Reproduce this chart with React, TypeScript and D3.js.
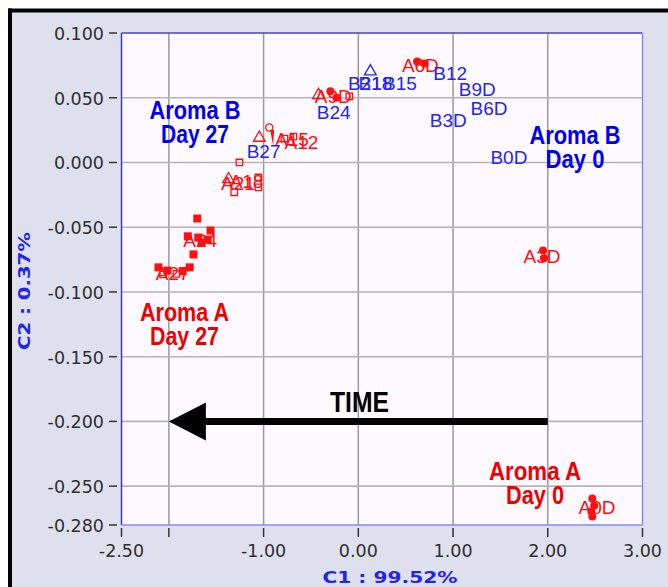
import * as d3 from "d3";

// axis ticks
const X_TICKS = [-2.5, -2, -1, 0, 1, 2, 3];
const X_TICK_LABELS = ["-2.50", "", "-1.00", "0.00", "1.00", "2.00", "3.00"];
const Y_TICKS = [0.1, 0.05, 0, -0.05, -0.1, -0.15, -0.2, -0.25, -0.28];
const Y_TICK_LABELS = ["0.100", "0.050", "0.000", "-0.050", "-0.100", "-0.150", "-0.200", "-0.250", "-0.280"];
const X_GRID = [-2, -1, 0, 1, 2];
const Y_GRID = [0.05, 0, -0.05, -0.1, -0.15, -0.2, -0.25];

// Aroma B sample labels
const B_LABELS = ["B0D", "B3D", "B6D", "B9D", "B12", "B15", "B18", "B21", "B24", "B27"];
const B_X = [1.59, 0.95, 1.38, 1.255, 0.97, 0.44, 0.18, 0.07, -0.26, -1.0];
const B_Y = [0.004, 0.033, 0.042, 0.057, 0.069, 0.061, 0.061, 0.061, 0.039, 0.009];

// Aroma A sample labels
const A_LABELS = ["A0D", "A3D", "A6D", "A9D", "A12", "A15", "A18", "A21", "A24", "A27"];
const A_X = [2.52, 1.94, 0.655, -0.265, -0.6, -0.7, -1.18, -1.27, -1.67, -1.96];
const A_Y = [-0.266, -0.072, 0.075, 0.051, 0.016, 0.018, -0.014, -0.016, -0.0595, -0.085];

// replicate markers
const M_SHAPE = [
  "dot", "dot", "dot", "dot",
  "dot", "dot",
  "dot", "dot",
  "dot", "dot", "sqOpen", "triOpen",
  "circOpen", "triOpen", "wedge", "sqOpen", "sqOpen",
  "sqOpen", "sqOpen", "sqOpen", "sqOpen", "triOpen",
  "sq", "sq", "sq", "sq", "sq", "sq", "sq",
  "sq", "sq", "sq", "sq", "sqOpen", "sqOpen",
  "triBlue",
];
const M_X = [
  2.47, 2.49, 2.46, 2.47,
  1.95, 1.96,
  0.62, 0.7,
  -0.295, -0.23, -0.095, -0.42,
  -0.94, -1.045, -0.91, -0.78, -0.685,
  -1.255, -1.31, -1.055, -1.055, -1.37,
  -1.7, -1.8, -1.69, -1.56, -1.74, -1.655, -1.59,
  -2.11, -2.015, -1.855, -1.78, -2.06, -1.92,
  0.127,
];
const M_Y = [
  -0.2595, -0.265, -0.2696, -0.2734,
  -0.068, -0.074,
  0.078, 0.0765,
  0.055, 0.05, 0.051, 0.052,
  0.027, 0.019, 0.019, 0.0185, 0.02,
  0.0, -0.023, -0.0116, -0.0193, -0.013,
  -0.0433, -0.057, -0.058, -0.0526, -0.071, -0.062, -0.0595,
  -0.081, -0.0835, -0.084, -0.081, -0.0865, -0.086,
  0.0703,
];

// annotations (two lines each)
const NOTE_LINE1 = ["Aroma B", "Aroma B", "Aroma A", "Aroma A"];
const NOTE_LINE2 = ["Day 27", "Day 0", "Day 27", "Day 0"];
const NOTE_X = [-1.724, 2.287, -1.835, 1.865];
const NOTE_Y = [0.0336, 0.0143, -0.1224, -0.2452];
const NOTE_COLOR = ["#0000ee", "#0000ee", "#ee0000", "#ee0000"];
const NOTE_W1 = [91, 91, 89, 92];
const NOTE_W2 = [68, 59, 69, 58];

const ARROW_FROM = 2;
const ARROW_TO = -2;
const ARROW_Y = -0.2;

const RED = "#ff1010";
const BLUE = "#2424f4";
const narrow = "'Liberation Sans Narrow', 'Arial Narrow', 'Liberation Sans', sans-serif";

export default function App() {
  const x = d3.scaleLinear().domain([-2.5, 3]).range([121.5, 642.5]);
  const y = d3.scaleLinear().domain([-0.28, 0.1]).range([525, 33]);
  const [x0, x1] = x.range();
  const [y0, y1] = y.range();

  const marker = (shape: string, i: number) => {
    const cx = x(M_X[i]);
    const cy = y(M_Y[i]);
    const t = `translate(${cx},${cy})`;
    if (shape === "dot")
      return <path key={i} transform={t} d={d3.symbol(d3.symbolCircle, 50)()!} fill={RED} />;
    if (shape === "sq")
      return <path key={i} transform={t} d={d3.symbol(d3.symbolSquare, 64)()!} fill={RED} />;
    if (shape === "sqOpen")
      return <path key={i} transform={t} d={d3.symbol(d3.symbolSquare, 42)()!} fill="none" stroke={RED} strokeWidth={1.3} />;
    if (shape === "circOpen")
      return <path key={i} transform={t} d={d3.symbol(d3.symbolCircle, 40)()!} fill="none" stroke={RED} strokeWidth={1.3} />;
    if (shape === "triOpen")
      return <path key={i} transform={t} d={d3.symbol(d3.symbolTriangle, 60)()!} fill="none" stroke={RED} strokeWidth={1.3} />;
    if (shape === "wedge")
      return <path key={i} transform={t} d="M-2,-8L2,-8L1,8Z" fill={RED} />;
    return <path key={i} transform={t} d={d3.symbol(d3.symbolTriangle, 60)()!} fill="none" stroke={BLUE} strokeWidth={1.3} />;
  };

  const ay = y(ARROW_Y);
  const tip = x(ARROW_TO);

  return (
    <div style={{ position: "absolute", left: 0, top: 0 }}>
      <svg width={668} height={587} style={{ display: "block", background: "#fff" }}>
        {/* panel */}
        <rect x={12} y={12} width={656} height={575} fill="#dfe0ee" />
        <line x1={8} x2={668} y1={10.5} y2={10.5} stroke="#000" strokeWidth={4} />
        <line x1={10} x2={10} y1={8.5} y2={587} stroke="#000" strokeWidth={4} />

        {/* plot area */}
        <rect x={x0} y={y1} width={x1 - x0} height={y0 - y1} fill="#fef9fe" />
        {X_GRID.map((v) => (
          <line key={"gx" + v} x1={x(v)} x2={x(v)} y1={y1} y2={y0} stroke="#999" strokeWidth={1.5} />
        ))}
        {Y_GRID.map((v) => (
          <line key={"gy" + v} x1={x0} x2={x1} y1={y(v)} y2={y(v)} stroke="#b4b4b4" strokeWidth={1.6} />
        ))}
        <line x1={x0} x2={x1} y1={y1} y2={y1} stroke="#4444cc" strokeWidth={1.3} />
        <line x1={x0} x2={x0} y1={y1} y2={y0} stroke="#3838c8" strokeWidth={1.5} />
        <line x1={x1} x2={x1} y1={y1} y2={y0} stroke="#8080f4" strokeWidth={1.3} />
        <line x1={x0} x2={x1} y1={y0} y2={y0} stroke="#8a8af8" strokeWidth={1.3} />

        {/* y axis */}
        {Y_TICKS.map((v, i) => (
          <g key={"yt" + i}>
            <line x1={109} x2={117} y1={y(v)} y2={y(v)} stroke="#333" strokeWidth={1.5} />
            <text x={104} y={y(v) + 7} textAnchor="end" fontFamily="'DejaVu Sans', sans-serif" fontSize={17.5} fill="#2e2e2e">
              {Y_TICK_LABELS[i]}
            </text>
          </g>
        ))}
        {/* x axis */}
        {X_TICKS.map((v, i) => (
          <g key={"xt" + i}>
            <line x1={x(v)} x2={x(v)} y1={528} y2={537} stroke="#333" strokeWidth={1.5} />
            <text x={x(v)} y={557} textAnchor="middle" fontFamily="'DejaVu Sans', sans-serif" fontSize={17.5} fill="#2e2e2e">
              {X_TICK_LABELS[i]}
            </text>
          </g>
        ))}
        <text x={390} y={583} textAnchor="middle" fontFamily="'DejaVu Sans', sans-serif" fontWeight="bold"
          fontSize={16} fill="#2424e8" textLength={135} lengthAdjust="spacingAndGlyphs">
          C1 : 99.52%
        </text>
        <text transform="translate(30,291) rotate(-90)" textAnchor="middle" fontFamily="'DejaVu Sans', sans-serif"
          fontWeight="bold" fontSize={16} fill="#2424e8" textLength={118} lengthAdjust="spacingAndGlyphs">
          C2 : 0.37%
        </text>

        {/* replicate markers */}
        {M_SHAPE.map((s, i) => marker(s, i))}

        {/* sample labels */}
        {A_LABELS.map((l, i) => (
          <text key={l} x={x(A_X[i])} y={y(A_Y[i]) + 7} textAnchor="middle" fontFamily="'Liberation Sans', Arial, sans-serif"
            fontSize={19} fill={RED}>
            {l}
          </text>
        ))}
        {B_LABELS.map((l, i) => (
          <text key={l} x={x(B_X[i])} y={y(B_Y[i]) + 7} textAnchor="middle" fontFamily="'Liberation Sans', Arial, sans-serif"
            fontSize={19} fill={BLUE}>
            {l}
          </text>
        ))}

        {/* annotations */}
        {NOTE_LINE1.map((l, i) => (
          <g key={"n" + i} fill={NOTE_COLOR[i]} fontFamily={narrow} fontWeight="bold" fontSize={26} textAnchor="middle">
            <text x={x(NOTE_X[i])} y={y(NOTE_Y[i])} textLength={NOTE_W1[i]} lengthAdjust="spacingAndGlyphs">{l}</text>
            <text x={x(NOTE_X[i])} y={y(NOTE_Y[i]) + 24} textLength={NOTE_W2[i]} lengthAdjust="spacingAndGlyphs">{NOTE_LINE2[i]}</text>
          </g>
        ))}

        {/* time arrow */}
        <line x1={x(ARROW_FROM)} x2={tip + 30} y1={ay} y2={ay} stroke="#000" strokeWidth={7} />
        <path d={`M${tip},${ay}L${tip + 37},${ay - 19}L${tip + 37},${ay + 19}Z`} fill="#000" />
        <text x={359.5} y={412} textAnchor="middle" fontFamily={narrow} fontWeight="bold" fontSize={29} fill="#000"
          textLength={59} lengthAdjust="spacingAndGlyphs">
          TIME
        </text>
      </svg>
    </div>
  );
}
